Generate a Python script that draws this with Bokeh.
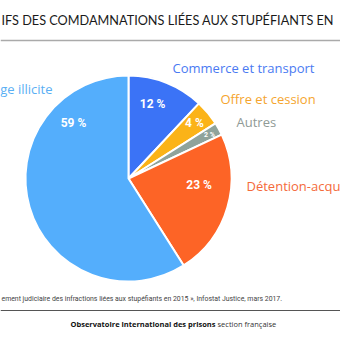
import math
from bokeh.plotting import figure
from bokeh.models import Range1d, ColumnDataSource
from bokeh.core.properties import value
from bokeh.embed import file_html
from bokeh.resources import INLINE

# ---- data (texts as visible in the cropped reference) ----
categories = ["Commerce et transport", "Offre et cession", "Autres", "Détention-acqu", "ge illicite"]
shares = [12, 4, 2, 23, 59]
pct_labels = ["12 %", "4 %", "2 %", "23 %", "59 %"]
title_text = "IFS DES COMDAMNATIONS LIÉES AUX STUPÉFIANTS EN"
source_text = "ement judiciaire des infractions liées aux stupéfiants en 2015 », Infostat Justice, mars 2017."
org_bold = "Observatoire international des prisons"
org_regular = "section française"

# ---- style ----
slice_colors = ["#3b73f6", "#fbb318", "#8fa39b", "#fd6426", "#54aefc"]
label_colors = ["#4a7af2", "#f5a52e", "#909a96", "#f46a3a", "#5aaff4"]
W, H = 340, 340
cx, cy, R = 128, H - 178, 103
# inside label placement (angle clockwise from top in degrees, radius)
in_ang = [18, 49.7, 61.5, 95.6, 315.5]
in_rad = [78, 86.5, 92, 71, 78.5]
in_size = ["12px", "12px", "7px", "12px", "12px"]
# outside labels (anchor x, centre y in pixels from top), align
out_pos = [(172, 67, "left"), (220, 98, "left"), (236, 121, "left"), (246, 185, "left"), (52, 88, "right")]

p = figure(width=W, height=H, output_backend="svg", toolbar_location=None,
           x_range=Range1d(0, W), y_range=Range1d(0, H), min_border=0)
p.axis.visible = False
p.grid.visible = False
p.outline_line_color = None
p.background_fill_color = "white"

total = sum(shares)
cum = 0.0
starts, ends = [], []
for s in shares:
    a0 = cum / total
    cum += s
    a1 = cum / total
    starts.append(math.pi / 2 - a1 * 2 * math.pi)
    ends.append(math.pi / 2 - a0 * 2 * math.pi)

src = ColumnDataSource(dict(x=[cx] * len(shares), y=[cy] * len(shares), start=starts, end=ends, color=slice_colors))
p.wedge(x="x", y="y", radius=R, start_angle="start", end_angle="end", fill_color="color",
        line_color="white", line_width=2, source=src)

# inside labels
for i, t in enumerate(pct_labels):
    a = math.radians(in_ang[i])
    x = cx + in_rad[i] * math.sin(a)
    y = cy + in_rad[i] * math.cos(a)
    p.text(x=[x], y=[y], text=[t], text_color="white", text_font=value("Roboto"),
           text_font_style="bold", text_font_size=in_size[i], text_align="center", text_baseline="middle")

# outside labels
for i, c in enumerate(categories):
    x, yt, al = out_pos[i]
    p.text(x=[x], y=[H - yt], text=[c], text_color=label_colors[i], text_font=value("Open Sans"),
           text_font_size="13px", text_align=al, text_baseline="middle")

# title
p.text(x=[1], y=[H - 19], text=[title_text], text_color="#1a1a1a", text_font=value("Lato"),
       text_font_size="12.7px", text_align="left", text_baseline="middle")
p.segment(x0=[0], y0=[H - 40], x1=[W], y1=[H - 40], line_color="#aaaaaa", line_width=1.3)

# source
p.text(x=[1], y=[H - 298], text=[source_text], text_color="#444444", text_font=value("Roboto"),
       text_font_size="6.9px", text_align="left", text_baseline="middle")
p.segment(x0=[0], y0=[H - 310], x1=[W], y1=[H - 310], line_color="#555555", line_width=1)

p.text(x=[215], y=[H - 323], text=[org_bold], text_color="#111111", text_font=value("Open Sans"),
       text_font_style="bold", text_font_size="7.5px", text_align="right", text_baseline="middle")
p.text(x=[217], y=[H - 323], text=[org_regular], text_color="#333333", text_font=value("Open Sans"),
       text_font_size="7.5px", text_align="left", text_baseline="middle")

open("out.html", "w").write(file_html(p, INLINE))
